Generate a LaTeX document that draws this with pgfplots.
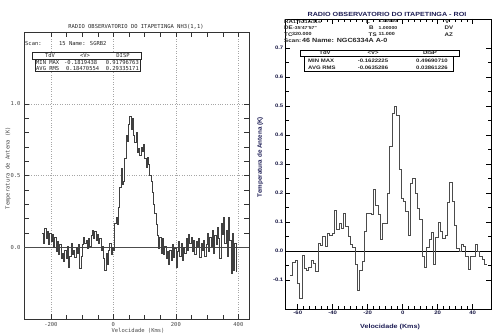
\documentclass[border=0pt]{standalone}
\usepackage{pgfplots}
\pgfplotsset{compat=1.18}
\usepackage{fontspec}
\setmainfont{Liberation Sans}
\newfontfamily\monof{DejaVu Sans Mono}
\newfontfamily\rfont[FakeStretch=1.2]{Liberation Sans}
\definecolor{navy}{RGB}{30,30,85}
\definecolor{tickgray}{RGB}{70,70,70}
\begin{document}
\begin{tikzpicture}[x=1bp,y=1bp]
\path[use as bounding box] (0,0) rectangle (500,335);
% ---------------- left panel ----------------
\begin{axis}[
  at={(24bp,16bp)}, anchor=south west,
  scale only axis, width=225bp, height=287bp,
  xmin=-286, xmax=434, ymin=-0.5, ymax=1.5,
  xtick={-200,0,200,400}, minor x tick num=3,
  ytick={0,0.5,1}, minor y tick num=4,
  /pgf/number format/assume math mode=true,
  yticklabel style={/pgf/number format/.cd, fixed, fixed zerofill, precision=1},
  ticklabel style={font=\monof\fontsize{5.5}{6}\selectfont, text=tickgray},
  tick align=inside, major tick length=5bp, minor tick length=4.5bp,
  tick style={black!80, line width=0.5pt},
  axis line style={black!80, line width=0.6pt},
  xmajorgrids, ymajorgrids, grid style={dotted, gray!70, line width=0.5pt},
  xlabel={Velocidade (Kms)}, ylabel={Temperatura de Antena (K)},
  label style={font=\monof\fontsize{5.5}{6}\selectfont, text=tickgray},
  xlabel style={at={(axis description cs:0.507,-0.04)}, anchor=center},
  ylabel style={at={(axis description cs:-0.071,0.526)}, anchor=center},
]
\addplot[black!70, line width=0.6pt, forget plot] coordinates {(-286,0) (434,0)};
\addplot[const plot, black!75, line width=0.6pt] coordinates {
(-228,0.10) (-224,0.03) (-220,0.13) (-216,0.06) (-212,0.11) (-208,0.02) (-204,0.10) (-200,0.04)
(-196,0.09) (-192,0.00) (-188,0.07) (-184,-0.03) (-180,0.04) (-176,-0.05) (-172,0.02) (-168,-0.08)
(-164,-0.04) (-160,-0.10) (-156,-0.02) (-152,-0.08) (-148,0.01) (-144,-0.14) (-140,-0.06) (-136,0.03)
(-132,-0.05) (-128,-0.02) (-124,-0.07) (-120,0.00) (-116,-0.04) (-112,0.02) (-108,-0.15) (-104,-0.06)
(-100,0.02) (-96,0.07) (-92,0.03) (-88,0.05) (-84,-0.01) (-80,0.06) (-76,0.01) (-72,0.08)
(-68,0.12) (-64,0.06) (-60,0.11) (-56,0.05) (-52,0.09) (-48,0.03) (-44,0.06) (-40,-0.02)
(-36,0.01) (-32,-0.08) (-28,-0.16) (-24,-0.04) (-20,-0.12) (-16,-0.02) (-12,0.03) (-8,-0.05)
(-4,0.00) (0,-0.02) (4,0.17) (8,0.21) (12,0.16) (16,0.28) (20,0.42) (24,0.55)
(28,0.44) (32,0.46) (36,0.62) (40,0.78) (44,0.74) (48,0.86) (52,0.91) (56,0.82)
(60,0.90) (64,0.78) (68,0.73) (72,0.80) (76,0.66) (80,0.69) (84,0.64) (88,0.70)
(92,0.67) (96,0.72) (100,0.62) (104,0.56) (108,0.63) (112,0.58) (116,0.50) (120,0.46)
(124,0.38) (128,0.30) (132,0.24) (136,0.16) (140,0.08) (144,-0.01) (148,0.07) (152,-0.04)
(156,0.06) (160,-0.05) (164,0.01) (168,-0.08) (172,-0.03) (176,-0.12) (180,-0.02) (184,-0.09)
(188,0.02) (192,-0.07) (196,-0.01) (200,-0.14) (204,-0.03) (208,0.04) (212,-0.06) (216,0.03)
(220,-0.09) (224,0.00) (228,-0.04) (232,0.06) (236,-0.02) (240,0.09) (244,0.03) (248,0.07)
(252,-0.03) (256,0.05) (260,-0.05) (264,0.04) (268,0.00) (272,0.06) (276,-0.07) (280,0.03)
(284,-0.02) (288,0.05) (292,-0.06) (296,0.02) (300,0.10) (304,-0.03) (308,0.07) (312,0.01)
(316,0.12) (320,-0.04) (324,0.08) (328,0.02) (332,0.14) (336,0.06) (340,-0.08) (344,0.17)
(348,0.09) (352,0.21) (356,0.03) (360,0.12) (364,-0.06) (368,0.21) (372,0.05) (376,-0.18)
(380,0.10) (384,-0.16) (388,0.03) (392,-0.17) (394,-0.17)
};
\end{axis}
% left annotations
\begin{scope}[every node/.style={font=\monof\fontsize{5.5}{6}\selectfont, text=black!85, inner sep=0pt}]
\node at (136,335-27) {RADIO OBSERVATORIO DO ITAPETINGA NH3(1,1)};
\node[anchor=west] at (25,335-44) {Scan:};
\node[anchor=west] at (59,335-44) {15 Name: SGRB2};
\draw[black!85, line width=0.5pt, fill=white] (32.7,335-52.3) rectangle (141.7,335-59.3);
\draw[black!85, line width=0.5pt, fill=white] (35,335-59.3) rectangle (140,335-71);
\node at (50,335-55.8) {TdV};
\node at (85,335-55.8) {<V>};
\node at (123,335-55.8) {DISP};
\node[anchor=west] at (36,335-62.5) {MIN MAX};
\node[anchor=west] at (64,335-62.5) {-0.1819438};
\node[anchor=east] at (139,335-62.5) {0.91796763};
\node[anchor=west] at (36,335-68.3) {AVG RMS};
\node[anchor=west] at (66,335-68.3) {0.18470554};
\node[anchor=east] at (139,335-68.3) {0.29335171};
\end{scope}
% ---------------- right panel ----------------
\begin{axis}[
  at={(285bp,26bp)}, anchor=south west,
  scale only axis, width=206bp, height=290bp,
  xmin=-67.3, xmax=50.5, ymin=-0.2, ymax=0.8,
  xtick={-60,-40,-20,0,20,40}, minor x tick num=5,
  ytick={-0.1,0,0.1,0.2,0.3,0.4,0.5,0.6,0.7}, minor y tick num=1,
  /pgf/number format/assume math mode=true,
  yticklabel style={/pgf/number format/.cd, fixed, fixed zerofill, precision=1},
  ticklabel style={font=\rfont\bfseries\fontsize{5}{6}\selectfont, text=navy!80!black, inner sep=1.5pt},
  tick align=inside, major tick length=5bp, minor tick length=3.5bp,
  tick style={black, line width=0.6pt},
  axis line style={black, line width=0.7pt},
  xlabel={Velocidade (Kms)}, ylabel={Temperatura de Antena (K)},
  xlabel style={font=\rfont\bfseries\fontsize{6}{7}\selectfont, text=navy, at={(axis description cs:0.51,-0.062)}, anchor=center},
  ylabel style={font=\bfseries\fontsize{6.3}{7}\selectfont, text=navy, at={(axis description cs:-0.12,0.524)}, anchor=center},
]
\addplot[black, line width=0.6pt, forget plot] coordinates {(-67.3,0) (50.5,0)};
\addplot[const plot, black!70, line width=0.8pt] coordinates {
(-64.20,-0.083) (-62.88,-0.040) (-61.56,-0.032) (-60.24,-0.113) (-58.92,-0.164) (-57.60,-0.014)
(-56.28,-0.060) (-54.96,-0.067) (-53.64,-0.058) (-52.32,-0.034) (-51.00,-0.042) (-49.68,-0.070)
(-48.36,0.026) (-47.04,0.020) (-45.72,0.050) (-44.40,0.017) (-43.08,0.060) (-41.76,0.055)
(-40.44,0.062) (-39.12,0.140) (-37.80,0.074) (-36.48,0.095) (-35.16,0.077) (-33.84,0.128)
(-32.52,0.086) (-31.20,0.050) (-29.88,0.023) (-28.56,0.011) (-27.24,-0.046) (-25.92,-0.137)
(-24.60,-0.068) (-23.28,-0.035) (-21.96,0.068) (-20.64,0.131) (-19.32,0.131) (-18.00,0.126)
(-16.68,0.213) (-15.36,0.156) (-14.04,0.126) (-12.72,0.040) (-11.40,0.095) (-10.08,0.095)
(-8.76,0.200) (-7.44,0.360) (-6.12,0.474) (-4.80,0.500) (-3.48,0.468) (-2.16,0.280)
(-0.84,0.183) (0.48,0.171) (1.80,0.137) (3.12,0.054) (4.44,0.234) (5.76,0.249)
(7.08,0.200) (8.40,0.148) (9.72,0.110) (11.04,-0.017) (12.36,-0.057) (13.68,0.011)
(15.00,0.040) (16.32,0.063) (17.64,-0.047) (18.96,0.046) (20.28,0.097) (21.60,0.068)
(22.92,0.042) (24.24,0.054) (25.56,0.169) (26.88,0.237) (28.20,0.171) (29.52,0.088)
(30.84,0.008) (32.16,0.000) (33.48,0.022) (34.80,0.017) (36.12,-0.017) (37.44,-0.063)
(38.76,-0.019) (40.08,-0.017) (41.40,0.022) (42.72,-0.002) (44.04,-0.017) (45.36,-0.029)
(46.68,-0.046) (48.00,-0.046)
};
\end{axis}
% right annotations
\node[font=\rfont\bfseries\fontsize{6}{7}\selectfont, text=navy, inner sep=0pt] at (387,335-14.3) {RADIO OBSERVATORIO DO ITAPETINGA - ROI};
\begin{scope}[every node/.style={font=\rfont\bfseries\fontsize{5.2}{6}\selectfont, text=black!85, inner sep=0pt, anchor=west}]
\node at (284,335-21.5) {RA};
\node[font=\rfont\bfseries\fontsize{4.3}{5}\selectfont] at (293,335-21.5) {17h21m31s};
\node at (366,335-21.5) {L};
\node[font=\rfont\bfseries\fontsize{4.3}{5}\selectfont] at (378.5,335-21.5) {1.00000};
\node at (445,335-21.5) {V};
\node at (284,335-28) {DE};
\node[font=\rfont\bfseries\fontsize{4.3}{5}\selectfont] at (293,335-28) {-35'47'57''};
\node at (369,335-28) {B};
\node[font=\rfont\bfseries\fontsize{4.3}{5}\selectfont] at (378.5,335-28) {1.00000};
\node at (444.5,335-28) {DV};
\node at (284,335-34.3) {TC};
\node[font=\rfont\bfseries\fontsize{4.5}{5}\selectfont] at (292,335-34.3) {320.000};
\node at (368.5,335-34.3) {TS};
\node[font=\rfont\bfseries\fontsize{4.5}{5}\selectfont] at (378.5,335-34.3) {11.000};
\node at (444.5,335-34.3) {AZ};
\node at (284,335-40.3) {Scan:};
\node[font=\rfont\bfseries\fontsize{6}{7}\selectfont] at (302,335-40.3) {46 Name: NGC6334A A-0};
\end{scope}
\draw[black, line width=0.6pt, fill=white] (300,335-50) rectangle (459,335-56.5);
\draw[black, line width=0.6pt, fill=white] (304,335-56.5) rectangle (453,335-71.5);
\begin{scope}[every node/.style={font=\rfont\bfseries\fontsize{5}{6}\selectfont, text=black!85, inner sep=0pt}]
\node at (325,335-53.2) {TdV};
\node at (373,335-53.2) {<V>};
\node at (430,335-53.2) {DISP};
\node[anchor=west] at (308,335-61) {MIN MAX};
\node at (373,335-61) {-0.1622225};
\node at (432,335-61) {0.49690710};
\node[anchor=west] at (308,335-67.3) {AVG RMS};
\node at (373,335-67.3) {-0.0635286};
\node at (432,335-67.3) {0.03861226};
\end{scope}
\end{tikzpicture}
\end{document}
